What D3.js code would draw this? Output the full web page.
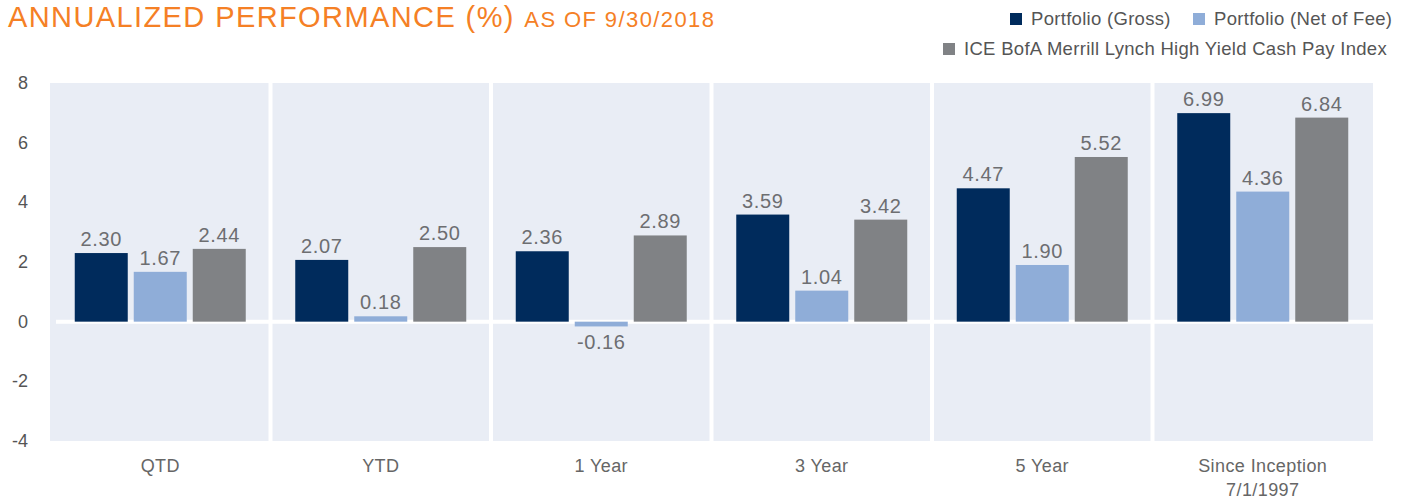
<!DOCTYPE html>
<html>
<head>
<meta charset="utf-8">
<script src="https://cdn.jsdelivr.net/npm/d3@7"></script>
<style>
  body { margin: 0; background: #fff; }
  text { font-family: "Liberation Sans", Arial, sans-serif; }
</style>
</head>
<body>
<svg id="chart"></svg>
<script>
// chart data
let categories = ['QTD', 'YTD', '1 Year', '3 Year', '5 Year', 'Since Inception\n7/1/1997'];
let seriesNames = ['Portfolio (Gross)', 'Portfolio (Net of Fee)', 'ICE BofA Merrill Lynch High Yield Cash Pay Index'];
let gross = [2.30, 2.07, 2.36, 3.59, 4.47, 6.99];
let netOfFee = [1.67, 0.18, -0.16, 1.04, 1.90, 4.36];
let benchmark = [2.44, 2.50, 2.89, 3.42, 5.52, 6.84];
let yTicks = [-4, -2, 0, 2, 4, 6, 8];

let colors = ['#002b5c', '#8fadd8', '#808285'];

function makeBarChart() {
    let w = 1406;
    let h = 500;
    let left = 50, right = 1373, top = 83, bottom = 441;

    let svg = d3.select('#chart')
        .attr('width', w)
        .attr('height', h);

    let xScale = d3.scaleBand()
        .domain(categories)
        .range([left, right]);

    let series = [gross, netOfFee, benchmark];

    let innerScale = d3.scaleBand()
        .domain(d3.range(series.length))
        .range([0, 171])
        .paddingInner(6 / 59);

    let yScale = d3.scaleLinear()
        .domain([-4, 8])
        .range([bottom, top]);

    // plot background per category
    svg.append('g')
        .selectAll('rect')
        .data(categories)
        .enter()
        .append('rect')
        .attr('x', (d, i) => xScale(d) + (i === 0 ? 0 : 2))
        .attr('y', top)
        .attr('width', (d, i) => xScale.bandwidth() - (i === 0 ? 2 : 4) + (i === categories.length - 1 ? 2 : 0))
        .attr('height', bottom - top)
        .attr('fill', '#e9edf5');

    // white zero line
    svg.append('line')
        .attr('x1', left + 6)
        .attr('x2', right)
        .attr('y1', yScale(0))
        .attr('y2', yScale(0))
        .attr('stroke', '#fff')
        .attr('stroke-width', 4);

    // bars
    series.forEach((values, s) => {
        let g = svg.append('g');
        g.selectAll('rect')
            .data(values)
            .enter()
            .append('rect')
            .attr('x', (d, i) => xScale(categories[i]) + (xScale.bandwidth() - 171) / 2 + innerScale(s))
            .attr('y', (d) => yScale(Math.max(0, d)))
            .attr('width', innerScale.bandwidth())
            .attr('height', (d) => Math.abs(yScale(d) - yScale(0)))
            .attr('fill', colors[s]);

        g.selectAll('text')
            .data(values)
            .enter()
            .append('text')
            .attr('x', (d, i) => xScale(categories[i]) + (xScale.bandwidth() - 171) / 2 + innerScale(s) + innerScale.bandwidth() / 2)
            .attr('y', (d) => d >= 0 ? yScale(d) - 7 : yScale(d) + 23)
            .attr('text-anchor', 'middle')
            .attr('font-size', '20px')
            .attr('letter-spacing', '0.6px')
            .attr('fill', '#6d6e71')
            .text((d) => d.toFixed(2));
    });

    // y axis labels
    svg.append('g')
        .selectAll('text')
        .data(yTicks)
        .enter()
        .append('text')
        .attr('x', 28)
        .attr('y', (d) => yScale(d) + 6)
        .attr('text-anchor', 'end')
        .attr('font-size', '18px')
        .attr('fill', '#555')
        .text((d) => d);

    // category labels
    let cat = svg.append('g')
        .selectAll('text')
        .data(categories)
        .enter()
        .append('text')
        .attr('x', (d) => xScale(d) + xScale.bandwidth() / 2)
        .attr('y', 472)
        .attr('text-anchor', 'middle')
        .attr('font-size', '18px')
        .attr('letter-spacing', '0.4px')
        .attr('fill', '#666');
    cat.selectAll('tspan')
        .data((d) => d.split('\n'))
        .enter()
        .append('tspan')
        .attr('x', function() { return d3.select(this.parentNode).attr('x'); })
        .attr('dy', (d, i) => i === 0 ? 0 : 24)
        .text((d) => d);

    // title
    let title = svg.append('text')
        .attr('x', 8)
        .attr('y', 27)
        .attr('fill', '#f58025')
        .attr('letter-spacing', '1.4px');
    title.append('tspan').attr('font-size', '29px').text('ANNUALIZED PERFORMANCE (%) ');
    title.append('tspan').attr('font-size', '22px').text('AS OF 9/30/2018');

    // legend
    let legendItems = [
        { name: seriesNames[0], color: colors[0], x: 1010, y: 19 },
        { name: seriesNames[1], color: colors[1], x: 1193, y: 19 },
        { name: seriesNames[2], color: colors[2], x: 943, y: 49 }
    ];
    let legend = svg.append('g')
        .selectAll('g')
        .data(legendItems)
        .enter()
        .append('g')
        .attr('transform', (d) => `translate(${d.x}, ${d.y})`);
    legend.append('rect')
        .attr('x', 0)
        .attr('y', -6)
        .attr('width', 12)
        .attr('height', 12)
        .attr('fill', (d) => d.color);
    legend.append('text')
        .attr('x', 21)
        .attr('y', 6)
        .attr('font-size', '18.5px')
        .attr('letter-spacing', '0.3px')
        .attr('fill', '#555')
        .text((d) => d.name);
}

window.onload = function() {
    makeBarChart();
};
</script>
</body>
</html>
